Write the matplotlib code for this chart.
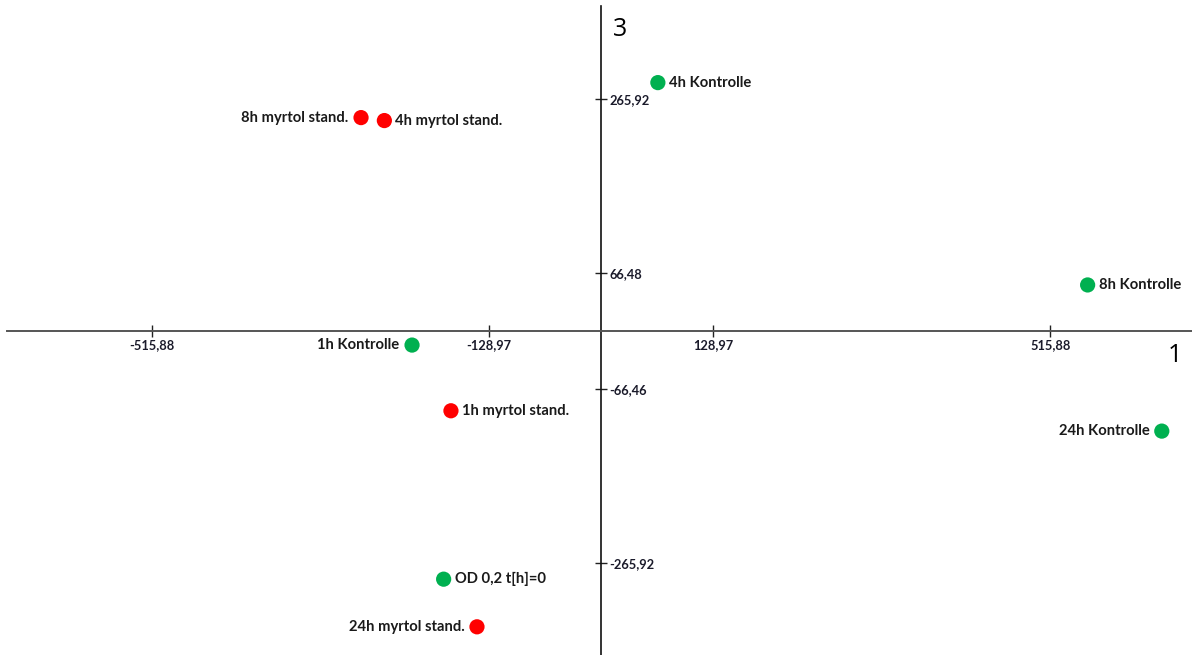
import matplotlib
matplotlib.use("Agg")
import matplotlib.pyplot as plt

# Sample scores on components 1 and 3
labels = ["4h Kontrolle", "8h Kontrolle", "24h Kontrolle", "1h Kontrolle", "OD 0,2 t[h]=0",
          "4h myrtol stand.", "8h myrtol stand.", "1h myrtol stand.", "24h myrtol stand."]
comp1 = [65.1, 558.8, 644.0, -217.3, -181.0, -249.1, -275.9, -172.6, -142.7]
comp3 = [284.7, 52.8, -114.7, -16.1, -284.4, 241.2, 244.6, -91.4, -339.0]
groups = ["k", "k", "k", "k", "k", "m", "m", "m", "m"]
label_side = ["right", "right", "left", "left", "right", "right", "left", "right", "left"]

xticks = [-515.88, -128.97, 128.97, 515.88]
yticks = [-265.92, -66.46, 66.48, 265.92]

colors = {"k": "#00B050", "m": "#FF0000"}
font = ["Lato", "DejaVu Sans"]

W, H = 1192, 655
fig = plt.figure(figsize=(W / 100, H / 100), dpi=100)
ax = fig.add_axes([7 / W, 0, 1185 / W, 649 / H])
ax.set_xlim(-682.6, 678.7)
ax.set_ylim(-371.3, 372.5)

for s in ["top", "left"]:
    ax.spines[s].set_visible(False)
ax.spines["bottom"].set_position(("data", 0))
ax.spines["right"].set_position(("data", 0))
ax.spines["bottom"].set_color("#555555")
ax.spines["right"].set_color("#111111")
ax.spines["bottom"].set_linewidth(1.4)
ax.spines["right"].set_linewidth(1.2)
ax.yaxis.set_ticks_position("right")
ax.xaxis.set_ticks_position("bottom")

ax.set_xticks(xticks)
ax.set_xticklabels([f"{v:.2f}".replace(".", ",") for v in xticks])
ax.set_yticks(yticks)
ax.set_yticklabels([f"{v:.2f}".replace(".", ",") for v in yticks])
ax.tick_params(direction="inout", length=8, width=1, colors="#222222", pad=2)
for t in ax.get_xticklabels() + ax.get_yticklabels():
    t.set_fontfamily(font)
    t.set_fontweight("bold")
    t.set_fontsize(9.3)
    t.set_color("#1a1a2a")

for x, y, g, lab, side in zip(comp1, comp3, groups, labels, label_side):
    ax.scatter([x], [y], s=120, color=colors[g], edgecolors="none", zorder=3)
    off = 8 if side == "right" else -9
    ax.annotate(lab, (x, y), xytext=(off, 0), textcoords="offset points",
                ha="left" if side == "right" else "right", va="center",
                fontsize=10.6, fontweight="bold", family=font, color="#1a1a1a")

ax.text(1175 / W, 1 - 355 / H, "1", transform=fig.transFigure, fontsize=18,
        ha="center", va="center", family=["Open Sans", "DejaVu Sans"])
ax.text(620 / W, 1 - 30 / H, "3", transform=fig.transFigure, fontsize=18,
        ha="center", va="center", family=["Open Sans", "DejaVu Sans"])

fig.savefig("out.png", dpi=100, facecolor="white")
